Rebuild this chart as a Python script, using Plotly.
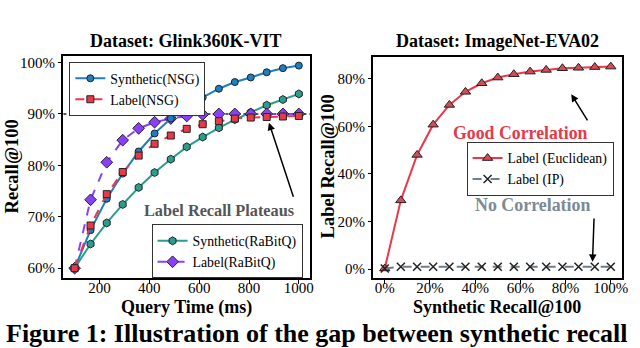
import plotly.graph_objects as go

# ---------------- data ----------------
query_time = [100, 164, 229, 293, 357, 421, 486, 550, 614, 679, 743, 807, 871, 936, 1000]
synthetic_nsg = [60.0, 67.4, 73.5, 78.4, 82.7, 86.2, 89.1, 91.2, 93.2, 94.9, 96.2, 97.1, 98.1, 98.9, 99.4]
label_nsg = [60.0, 68.3, 74.4, 78.7, 81.9, 84.2, 85.8, 87.1, 88.0, 88.6, 89.1, 89.3, 89.4, 89.5, 89.6]
synthetic_rabitq = [60.0, 64.7, 68.8, 72.4, 75.7, 78.6, 81.2, 83.6, 85.5, 87.3, 88.9, 90.3, 91.7, 92.8, 93.9]
label_rabitq = [60.0, 73.3, 80.6, 84.9, 87.2, 88.4, 89.1, 89.6, 89.9, 90.0, 90.0, 90.0, 90.0, 90.0, 90.0]

synthetic_recall = [0.0, 7.1, 14.3, 21.4, 28.6, 35.7, 42.9, 50.0, 57.1, 64.3, 71.4, 78.6, 85.7, 92.9, 100.0]
label_euclidean = [0.3, 28.9, 48.0, 60.7, 69.0, 74.5, 78.1, 80.5, 81.9, 83.0, 83.7, 84.4, 84.6, 84.9, 85.1]
label_ip = [0.3, 1.0, 1.0, 1.0, 1.0, 1.0, 1.0, 1.0, 1.0, 1.0, 1.0, 1.0, 1.0, 1.0, 1.0]

left_xticks = [200, 400, 600, 800, 1000]
left_yticks = [60, 70, 80, 90, 100]
right_xticks = [0, 20, 40, 60, 80, 100]
right_yticks = [0, 20, 40, 60, 80]

# ---------------- style ----------------
FONT = "Liberation Serif, Times New Roman, serif"
BLUE = "#1f7dc0"
RED = "#e8394a"
TEAL = "#2a9d8f"
PURPLE = "#8a3ffc"
GRAY = "#6f7f8a"

W, H = 640, 348

def px(x):
    return x / W

def py(y):
    return 1 - y / H

fig = go.Figure()

def add(x, y, name, color, dash, symbol, size, xa, ya, legend, mcolor=None, mline=1):
    fig.add_trace(go.Scatter(
        x=x, y=y, name=name, mode="lines+markers",
        line=dict(color=color, width=2, dash=dash),
        marker=dict(symbol=symbol, size=size, color=mcolor or color,
                    line=dict(color="#222", width=mline)),
        xaxis=xa, yaxis=ya, legend=legend,
    ))

add(query_time, synthetic_rabitq, "Synthetic(RaBitQ)", TEAL, "solid", "hexagon", 8, "x", "y", "legend2")
add(query_time, label_rabitq, "Label(RaBitQ)", PURPLE, "dash", "diamond", 9, "x", "y", "legend2")
add(query_time, synthetic_nsg, "Synthetic(NSG)", BLUE, "solid", "circle", 7, "x", "y", "legend")
add(query_time, label_nsg, "Label(NSG)", RED, "dash", "square", 7, "x", "y", "legend")

add(synthetic_recall, label_euclidean, "Label (Euclidean)", RED, "solid", "triangle-up", 9, "x2", "y2", "legend3", mcolor="#d84a55")
add(synthetic_recall, label_ip, "Label (IP)", GRAY, "dash", "x-thin", 8, "x2", "y2", "legend3", mline=1.5)

# 90% reference line
fig.add_shape(type="line", xref="x domain", yref="y", x0=0, x1=1, y0=90, y1=90,
              line=dict(color="#222", width=1.5, dash="dot"), layer="below")

axis_common = dict(showline=True, linecolor="black", linewidth=2, mirror=True,
                   ticks="outside", ticklen=3.5, tickwidth=1, tickcolor="black",
                   showgrid=False, zeroline=False,
                   tickfont=dict(family=FONT, size=15, color="black"))

def pct(vals):
    return [f"{v}%" for v in vals]

fig.update_layout(
    width=W, height=H, margin=dict(l=0, r=0, t=0, b=0),
    paper_bgcolor="white", plot_bgcolor="white",
    font=dict(family=FONT, color="black"),
    xaxis=dict(domain=[px(64), px(313)], range=[55, 1045], tickmode="array",
               tickvals=left_xticks, ticktext=[str(v) for v in left_xticks],
               ticklabelstandoff=-9, anchor="y", **axis_common),
    yaxis=dict(domain=[py(278), py(55)], range=[58.05, 101.3], tickmode="array",
               tickvals=left_yticks, ticktext=pct(left_yticks), anchor="x", **axis_common),
    xaxis2=dict(domain=[px(377), px(628)], range=[-5, 105], tickmode="array",
                tickvals=right_xticks, ticktext=pct(right_xticks),
                ticklabelstandoff=-9, anchor="y2", **axis_common),
    yaxis2=dict(domain=[py(278), py(56)], range=[-3.8, 89.2], tickmode="array",
                tickvals=right_yticks, ticktext=pct(right_yticks), anchor="x2", **axis_common),
)

legend_common = dict(bgcolor="white", bordercolor="#333", borderwidth=1,
                     font=dict(family=FONT, size=13.8, color="black"),
                     xanchor="left", yanchor="top", tracegroupgap=0,
                     itemwidth=30, traceorder="normal")
fig.update_layout(
    legend=dict(x=px(70), y=py(61), **legend_common),
    legend2=dict(x=px(153), y=py(224), **legend_common),
    legend3=dict(x=px(471), y=py(141), **legend_common),
)

ann = []
def text(x, y, s, size, color="black", bold=True, angle=0):
    ann.append(dict(x=px(x), y=py(y), xref="paper", yref="paper", text=(f"<b>{s}</b>" if bold else s),
                    showarrow=False, textangle=angle, xanchor="center", yanchor="middle",
                    font=dict(family=FONT, size=size, color=color)))

text(188, 40, "Dataset: Glink360K-VIT", 18)
text(502, 40, "Dataset: ImageNet-EVA02", 18)
text(188, 307, "Query Time (ms)", 18)
text(502, 307, "Synthetic Recall@100", 18)
text(12, 166, "Recall@100", 18.5, angle=-90)
text(331, 166, "Label Recall@100", 18.5, angle=-90)
text(221, 210, "Label Recall Plateaus", 16.3, color="#555555")
text(525, 132, "Good Correlation", 17.8, color=RED)
text(538, 205, "No Correlation", 17.9, color="#7d8a93")
text(320, 333, "Figure 1: Illustration of the gap between synthetic recall", 26)

# arrows (data coordinates)
ann.append(dict(x=880, y=88.3, ax=980, ay=73.6, xref="x", yref="y", axref="x", ayref="y",
                showarrow=True, arrowhead=2, arrowsize=1, arrowwidth=1.5, arrowcolor="black", text=""))
ann.append(dict(x=82.5, y=73.5, ax=90.1, ay=61.9, xref="x2", yref="y2", axref="x2", ayref="y2",
                showarrow=True, arrowhead=2, arrowsize=1, arrowwidth=1.5, arrowcolor="black", text=""))
ann.append(dict(x=91.9, y=3.1, ax=92.6, ay=21.9, xref="x2", yref="y2", axref="x2", ayref="y2",
                showarrow=True, arrowhead=2, arrowsize=1, arrowwidth=1.5, arrowcolor="black", text=""))
fig.update_layout(annotations=ann)

fig.write_html("out.html", config={"displayModeBar": False},
               post_script="document.body.style.margin='0';document.body.style.overflow='hidden';")
